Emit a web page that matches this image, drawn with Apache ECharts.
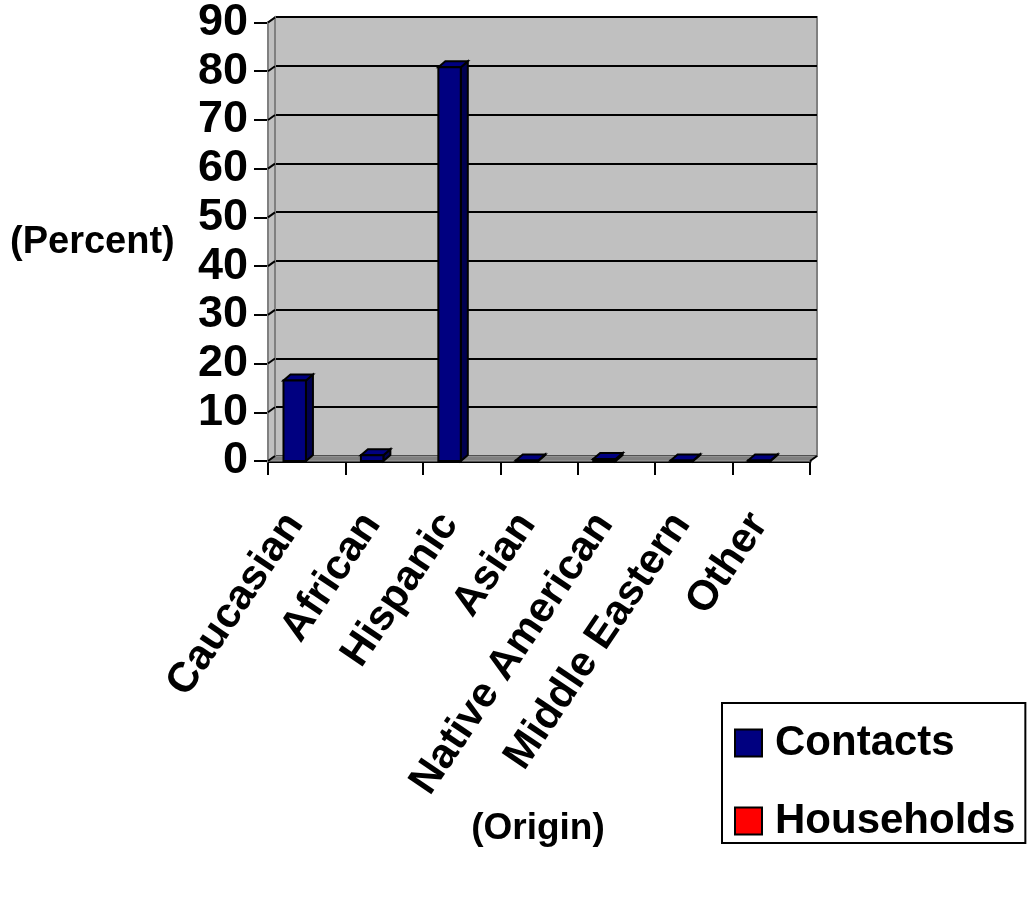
<!DOCTYPE html>
<html>
<head>
<meta charset="utf-8">
<script src="https://cdn.jsdelivr.net/npm/echarts@6/dist/echarts.min.js"></script>
<style>
  html, body { margin: 0; padding: 0; background: #ffffff; }
  #chart { width: 1031px; height: 899px; }
</style>
</head>
<body>
<div id="chart"></div>
<script>
// Share of contacts by origin (percent)
const categories = ['Caucasian', 'African', 'Hispanic', 'Asian', 'Native American', 'Middle Eastern', 'Other'];
const contacts = [16.5, 1.2, 80.8, 0.1, 0.4, 0.1, 0.1];
const households = [null, null, null, null, null, null, null];
const yTicks = [0, 10, 20, 30, 40, 50, 60, 70, 80, 90];

const FONT = '"Liberation Sans", Arial, sans-serif';
// Pseudo-3D depth of the walls and columns
const WALL_DX = 7, WALL_DY = 5;
const BAR_DX = 7, BAR_DY = 6;

// Front plane of the plot
const FRONT = { left: 268, right: 221, top: 22, bottom: 438 };

const chart = echarts.init(document.getElementById('chart'), null, { renderer: 'canvas' });

// Column with front, top and right-side faces
function columnRenderer(slot, fill, sideFill) {
  return function (params, api) {
    const v = api.value(1);
    if (v === null || v === undefined || isNaN(v)) return null;
    const idx = api.value(0);
    const base = api.coord([idx, 0]);
    const top = api.coord([idx, v]);
    const band = api.size([1, 0])[0];
    const w = band * 0.29;
    const x0 = slot === 0 ? base[0] - band * 0.30 : base[0] + band * 0.01;
    const x1 = x0 + w;
    const ty = top[1], by = base[1];
    const stroke = { stroke: '#000000', lineWidth: 2, lineJoin: 'miter' };
    return {
      type: 'group',
      children: [
        {
          type: 'polygon',
          shape: { points: [[x1, ty], [x1 + BAR_DX, ty - BAR_DY], [x1 + BAR_DX, by - BAR_DY], [x1, by]] },
          style: Object.assign({ fill: sideFill }, stroke)
        },
        {
          type: 'polygon',
          shape: { points: [[x0, ty], [x1, ty], [x1 + BAR_DX, ty - BAR_DY], [x0 + BAR_DX, ty - BAR_DY]] },
          style: Object.assign({ fill: fill }, stroke)
        },
        {
          type: 'rect',
          shape: { x: x0, y: ty, width: w, height: by - ty },
          style: Object.assign({ fill: fill }, stroke)
        }
      ]
    };
  };
}

// Side wall, floor and gridline connectors between front axis and back wall
function frameRenderer(params, api) {
  const cs = params.coordSys;
  const L = cs.x, R = cs.x + cs.width, T = cs.y, B = cs.y + cs.height;
  const children = [];
  if (params.dataIndex === 0) {
    children.push({
      type: 'polygon',
      shape: { points: [[L, B], [R, B], [R + WALL_DX, B - WALL_DY], [L + WALL_DX, B - WALL_DY]] },
      style: { fill: '#808080', stroke: '#a0a0a0', lineWidth: 1 }
    });
    children.push({
      type: 'polygon',
      shape: { points: [[L, B], [L + WALL_DX, B - WALL_DY], [L + WALL_DX, T - WALL_DY], [L, T]] },
      style: { fill: '#c0c0c0', stroke: '#808080', lineWidth: 2 }
    });
    children.push({
      type: 'line',
      shape: { x1: R, y1: B, x2: R + WALL_DX, y2: B - WALL_DY },
      style: { stroke: '#000000', lineWidth: 2 }
    });
  }
  const y = api.coord([0, api.value(1)])[1];
  children.push({
    type: 'line',
    shape: { x1: L, y1: y, x2: L + WALL_DX, y2: y - WALL_DY },
    style: { stroke: '#000000', lineWidth: 2 }
  });
  return { type: 'group', children: children };
}

const option = {
  backgroundColor: '#ffffff',
  animation: false,
  textStyle: { fontFamily: FONT },
  grid: [
    { // back wall
      left: FRONT.left + WALL_DX, right: FRONT.right - WALL_DX,
      top: FRONT.top - WALL_DY, bottom: FRONT.bottom + WALL_DY,
      show: true, backgroundColor: '#c0c0c0', borderColor: '#808080', borderWidth: 2,
      containLabel: false
    },
    { // front plane
      left: FRONT.left, right: FRONT.right, top: FRONT.top, bottom: FRONT.bottom,
      containLabel: false
    }
  ],
  xAxis: [
    { type: 'category', gridIndex: 0, data: categories, show: false },
    {
      type: 'category', gridIndex: 1, data: categories, boundaryGap: true,
      axisLine: { show: true, lineStyle: { color: '#000000', width: 3 } },
      axisTick: { show: true, alignWithLabel: false, length: 14, lineStyle: { color: '#000000', width: 2 } },
      axisLabel: {
        rotate: 56, interval: 0, margin: 38, padding: [0, 22, 0, 0],
        color: '#000000', fontSize: 42, fontWeight: 'bold', fontFamily: FONT
      },
      splitLine: { show: false }
    }
  ],
  yAxis: [
    {
      type: 'value', gridIndex: 0, min: 0, max: 90, interval: 10,
      axisLine: { show: false }, axisTick: { show: false }, axisLabel: { show: false },
      splitLine: { show: true, lineStyle: { color: '#000000', width: 2 } }
    },
    {
      type: 'value', gridIndex: 1, min: 0, max: 90, interval: 10,
      axisLine: { show: true, lineStyle: { color: '#000000', width: 2 } },
      axisTick: { show: true, length: 14, lineStyle: { color: '#000000', width: 2 } },
      axisLabel: { margin: 20, color: '#000000', fontSize: 45, fontWeight: 'bold', fontFamily: FONT },
      splitLine: { show: false }
    }
  ],
  legend: {
    data: ['Contacts', 'Households'],
    orient: 'vertical',
    left: 722, top: 703,
    padding: [18, 10, 0, 12],
    itemGap: 34,
    itemWidth: 27, itemHeight: 27,
    icon: 'rect',
    backgroundColor: '#ffffff',
    borderColor: '#000000', borderWidth: 2, borderRadius: 0,
    itemStyle: { borderColor: '#000000', borderWidth: 2 },
    textStyle: { color: '#000000', fontSize: 42, fontWeight: 'bold', fontFamily: FONT, lineHeight: 44, padding: [0, 0, 0, 8] },
    selectedMode: false
  },
  graphic: [
    {
      type: 'text', left: 10, top: 224,
      style: { text: '(Percent)', fill: '#000000', font: 'bold 38px ' + FONT }
    },
    {
      type: 'text', x: 538, y: 829,
      style: { text: '(Origin)', fill: '#000000', font: 'bold 37px ' + FONT, align: 'center', verticalAlign: 'middle' }
    }
  ],
  series: [
    {
      name: 'frame', type: 'custom', xAxisIndex: 1, yAxisIndex: 1,
      data: yTicks.map(v => [0, v]),
      renderItem: frameRenderer, silent: true, z: 1
    },
    {
      name: 'Contacts', type: 'custom', xAxisIndex: 1, yAxisIndex: 1,
      itemStyle: { color: '#000080' },
      data: contacts.map((v, i) => [i, v]),
      renderItem: columnRenderer(0, '#000080', '#000050'), z: 3
    },
    {
      name: 'Households', type: 'custom', xAxisIndex: 1, yAxisIndex: 1,
      itemStyle: { color: '#ff0000' },
      data: households.map((v, i) => [i, v]),
      renderItem: columnRenderer(1, '#ff0000', '#800000'), z: 3
    }
  ]
};

chart.setOption(option);
</script>
</body>
</html>
